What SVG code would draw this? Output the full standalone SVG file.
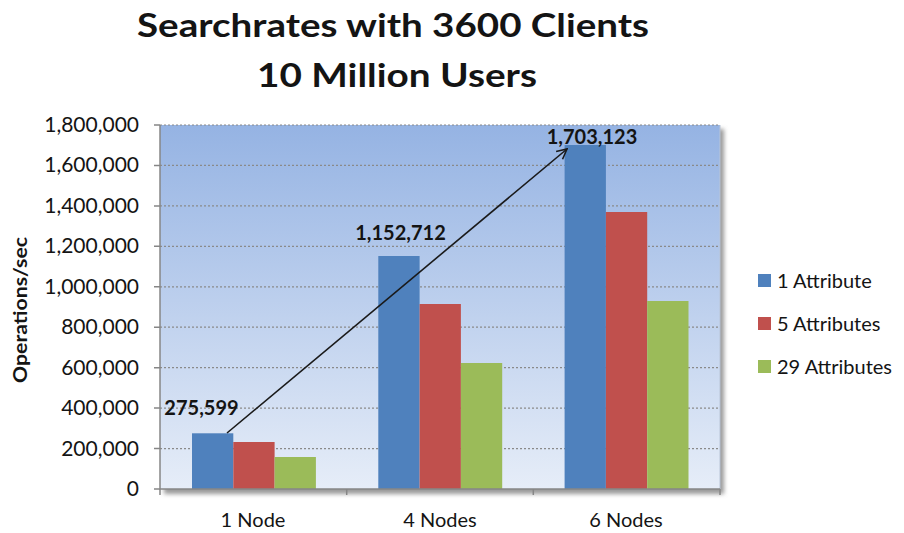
<svg xmlns="http://www.w3.org/2000/svg" width="904" height="533" viewBox="0 0 904 533">
<style>
.t{font-family:Lato,"Open Sans","Liberation Sans",sans-serif;fill:#141414}
.title{font-size:33px;font-weight:bold;text-anchor:middle}
.ytick{font-size:21px;text-anchor:end}
.xtick{font-size:20px;text-anchor:middle}
.dl{font-size:20px;font-weight:bold;text-anchor:middle}
.leg{font-size:20px}
.grid{stroke:#8a8a8a;stroke-width:1.2;stroke-dasharray:2,2;fill:none}
.axis{stroke:#868686;stroke-width:1.5;fill:none}
.blue{fill:#4f81bd}
.red{fill:#c0504d}
.green{fill:#9bbb59}
</style>
<defs>
<linearGradient id="bg" x1="0" y1="0" x2="0" y2="1">
<stop offset="0" stop-color="#95b3e3"/>
<stop offset="1" stop-color="#e6edf8"/>
</linearGradient>
<filter id="sh" x="-5%" y="-5%" width="110%" height="110%">
<feGaussianBlur stdDeviation="2"/>
</filter>
<marker id="ah" viewBox="0 0 12 12" refX="11" refY="6" markerWidth="12" markerHeight="12" markerUnits="userSpaceOnUse" orient="auto">
<path d="M1,1 L11,6 L1,11" fill="none" stroke="#1a1a1a" stroke-width="1.6"/>
</marker>
</defs>
<rect width="904" height="533" fill="#ffffff"/>

<g id="title" class="t">
<text class="title" x="393" y="37" textLength="512" lengthAdjust="spacingAndGlyphs">Searchrates with 3600 Clients</text>
<text class="title" x="397" y="87" textLength="280" lengthAdjust="spacingAndGlyphs">10 Million Users</text>
</g>

<g id="plot-area">
<rect x="164" y="129" width="560" height="365" fill="#9a9a9a" filter="url(#sh)"/>
<rect x="160" y="125" width="560" height="364" fill="url(#bg)"/>
<line x1="720" y1="125" x2="720" y2="489" stroke="#b8c4d6" stroke-width="1"/>
</g>

<g id="gridlines">
<line class="grid" x1="160" y1="125" x2="720" y2="125"/>
<line class="grid" x1="160" y1="165.4" x2="720" y2="165.4"/>
<line class="grid" x1="160" y1="205.9" x2="720" y2="205.9"/>
<line class="grid" x1="160" y1="246.3" x2="720" y2="246.3"/>
<line class="grid" x1="160" y1="286.8" x2="720" y2="286.8"/>
<line class="grid" x1="160" y1="327.2" x2="720" y2="327.2"/>
<line class="grid" x1="160" y1="367.7" x2="720" y2="367.7"/>
<line class="grid" x1="160" y1="408.1" x2="720" y2="408.1"/>
<line class="grid" x1="160" y1="448.6" x2="720" y2="448.6"/>
</g>

<g id="bars">
<g id="node1-bars">
<rect class="blue" x="192" y="433.3" width="41.3" height="55.7"/>
<rect class="red" x="233.3" y="442" width="41.3" height="47"/>
<rect class="green" x="274.6" y="457" width="41.3" height="32"/>
</g>
<g id="node4-bars">
<rect class="blue" x="378.3" y="256" width="41.3" height="233"/>
<rect class="red" x="419.6" y="304" width="41.3" height="185"/>
<rect class="green" x="460.9" y="363" width="41.3" height="126"/>
</g>
<g id="node6-bars">
<rect class="blue" x="564.6" y="145" width="41.3" height="344"/>
<rect class="red" x="605.9" y="212" width="41.3" height="277"/>
<rect class="green" x="647.2" y="301" width="41.3" height="188"/>
</g>
</g>

<g id="axes">
<path class="axis" d="M160,125 V489 H720"/>
<path class="axis" d="M154,125 H160 M154,165.4 H160 M154,205.9 H160 M154,246.3 H160 M154,286.8 H160 M154,327.2 H160 M154,367.7 H160 M154,408.1 H160 M154,448.6 H160 M154,489 H160"/>
<path class="axis" d="M160,489 V495 M346.7,489 V495 M533.3,489 V495 M720,489 V495"/>
</g>

<g id="y-labels" class="t">
<text class="ytick" x="139" y="132">1,800,000</text>
<text class="ytick" x="139" y="172.4">1,600,000</text>
<text class="ytick" x="139" y="212.9">1,400,000</text>
<text class="ytick" x="139" y="253.3">1,200,000</text>
<text class="ytick" x="139" y="293.8">1,000,000</text>
<text class="ytick" x="139" y="334.2">800,000</text>
<text class="ytick" x="139" y="374.7">600,000</text>
<text class="ytick" x="139" y="415.1">400,000</text>
<text class="ytick" x="139" y="455.6">200,000</text>
<text class="ytick" x="139" y="496">0</text>
</g>

<g id="y-title" class="t">
<text transform="translate(27,310) rotate(-90)" text-anchor="middle" font-size="18" font-weight="bold" textLength="146" lengthAdjust="spacingAndGlyphs">Operations/sec</text>
</g>

<g id="x-labels" class="t">
<text class="xtick" x="253" y="527">1 Node</text>
<text class="xtick" x="440" y="527">4 Nodes</text>
<text class="xtick" x="626" y="527">6 Nodes</text>
</g>

<g id="connectors">
<line x1="227" y1="433" x2="567" y2="149" stroke="#1a1a1a" stroke-width="1.6" marker-end="url(#ah)"/>
</g>

<g id="data-labels" class="t">
<text class="dl" x="201.5" y="415">275,599</text>
<text class="dl" x="400.5" y="240">1,152,712</text>
<text class="dl" x="592" y="144">1,703,123</text>
</g>

<g id="legend" class="t">
<g id="legend-1">
<rect class="blue" x="758" y="274" width="13" height="13"/>
<text class="leg" x="777" y="288">1 Attribute</text>
</g>
<g id="legend-5">
<rect class="red" x="758" y="317" width="13" height="13"/>
<text class="leg" x="777" y="331">5 Attributes</text>
</g>
<g id="legend-29">
<rect class="green" x="758" y="360" width="13" height="13"/>
<text class="leg" x="777" y="374">29 Attributes</text>
</g>
</g>
</svg>
